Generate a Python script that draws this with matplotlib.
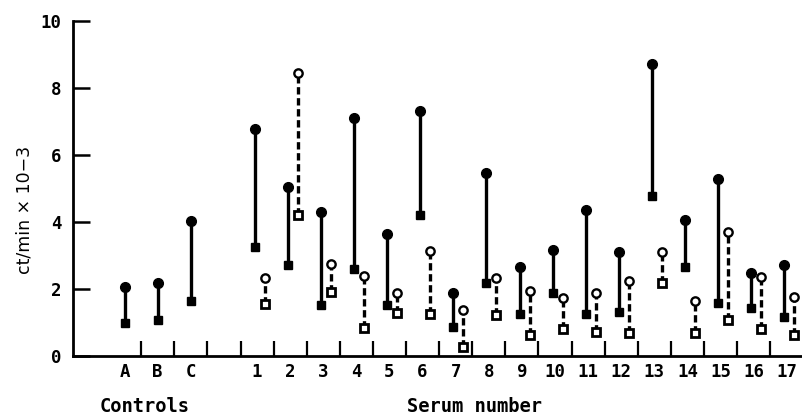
import matplotlib.pyplot as plt

# category labels
controls = ['A', 'B', 'C']
serums = [str(i) for i in range(1, 18)]

# controls: high (filled circle) and low (filled square)
ctrl_high = [2.05, 2.19, 4.04]
ctrl_low = [0.98, 1.09, 1.65]

# serum 1..17, solid pair
solid_high = [6.77, 5.04, 4.29, 7.11, 3.63, 7.32, 1.87, 5.48, 2.67,
              3.18, 4.36, 3.11, 8.71, 4.06, 5.30, 2.47, 2.72]
solid_low = [3.26, 2.71, 1.52, 2.59, 1.53, 4.22, 0.88, 2.19, 1.25,
             1.87, 1.27, 1.32, 4.79, 2.67, 1.57, 1.45, 1.17]

# serum 1..17, dashed pair
dash_high = [2.32, 8.46, 2.74, 2.39, 1.87, 3.14, 1.39, 2.32, 1.94,
             1.72, 1.87, 2.24, 3.11, 1.65, 3.69, 2.35, 1.77]
dash_low = [1.55, 4.21, 1.92, 0.83, 1.30, 1.27, 0.28, 1.22, 0.63,
            0.80, 0.73, 0.68, 2.19, 0.68, 1.09, 0.80, 0.63]

mono = ['DejaVu Sans Mono']

fig = plt.figure(figsize=(8.02, 4.15), dpi=100)
ax = fig.add_axes([0.091, 0.142, 0.909, 0.807])

ctrl_x = [0, 1, 2]
serum_x = [i + 4 for i in range(len(serums))]
sx = [x - 0.07 for x in serum_x]
dx = [x + 0.23 for x in serum_x]

# controls
ax.vlines(ctrl_x, ctrl_low, ctrl_high, color='k', lw=2.4)
ax.plot(ctrl_x, ctrl_high, 'o', color='k', ms=7, clip_on=False)
ax.plot(ctrl_x, ctrl_low, 's', color='k', ms=6.3, clip_on=False)

# solid pairs
ax.vlines(sx, solid_low, solid_high, color='k', lw=2.4)
ax.plot(sx, solid_high, 'o', color='k', ms=7, clip_on=False)
ax.plot(sx, solid_low, 's', color='k', ms=6.3, clip_on=False)

# dashed pairs
for x, lo, hi in zip(dx, dash_low, dash_high):
    ax.plot([x, x], [lo, hi], color='k', lw=2.4, dashes=(2.2, 1.1))
ax.plot(dx, dash_high, 'o', mfc='white', mec='k', mew=1.7, ms=6, clip_on=False)
ax.plot(dx, dash_low, 's', mfc='white', mec='k', mew=2.0, ms=5.3, clip_on=False)

ax.set_xlim(-1.56, 20.46)
ax.set_ylim(0, 10)

ax.spines['top'].set_visible(False)
ax.spines['right'].set_visible(False)
ax.spines['left'].set_linewidth(2)
ax.spines['bottom'].set_linewidth(2)

ax.set_yticks([0, 2, 4, 6, 8, 10])
ax.set_yticklabels(['0', '2', '4', '6', '8', '10'], family=mono,
                   fontweight='bold', fontsize=12.5)
ax.tick_params(axis='y', direction='in', length=12, width=1.8, pad=8)

ax.set_xticks(ctrl_x + serum_x)
ax.set_xticklabels(controls + serums, family=mono, fontweight='bold',
                   fontsize=12.5)
ax.tick_params(axis='x', which='major', length=0, pad=5)
ax.set_xticks([i + 0.5 for i in range(20)], minor=True)
ax.tick_params(axis='x', which='minor', direction='in', length=11, width=1.6)

fig.text(0.030, 0.494, 'ct/min × 10−3', fontsize=12.5, rotation=90,
         ha='center', va='center')

fig.text(0.18, 0.008, 'Controls', family=mono, fontweight='bold',
         fontsize=13.5, ha='center', va='baseline')
fig.text(0.592, 0.008, 'Serum number', family=mono, fontweight='bold',
         fontsize=13.5, ha='center', va='baseline')

fig.savefig('out.png', dpi=100)
